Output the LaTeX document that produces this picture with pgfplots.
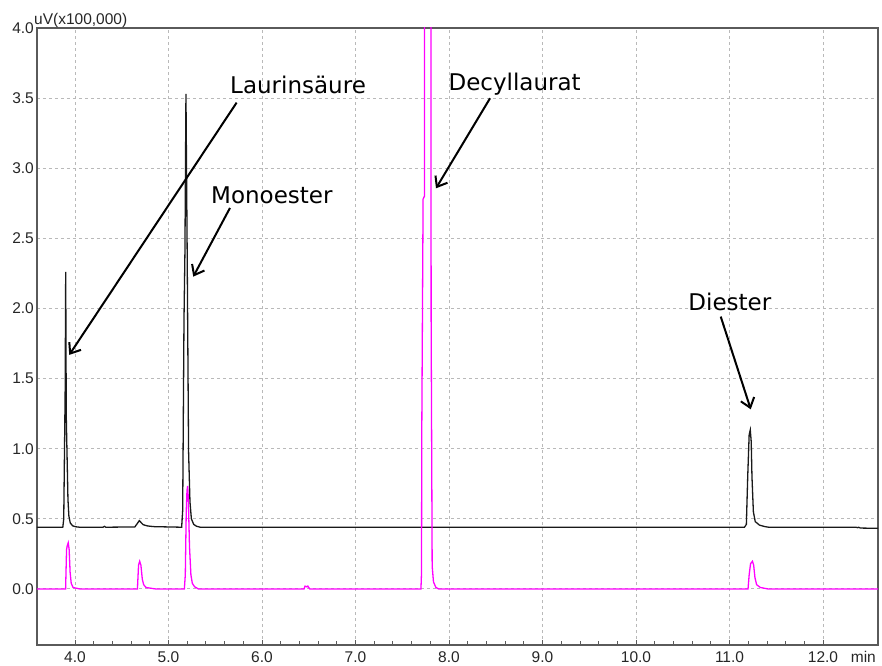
\documentclass[border=0pt]{standalone}
\usepackage{pgfplots}
\pgfplotsset{compat=1.18}
\usepackage{fontspec}
\setmainfont{Liberation Sans}
\newfontfamily\labelfont{DejaVu Sans}
\usetikzlibrary{arrows.meta}

\definecolor{trmag}{RGB}{255,0,255}
\definecolor{axgray}{RGB}{90,90,90}
\definecolor{gridgray}{RGB}{185,185,185}

% chromatogram traces: retention time (min) vs. signal (uV x 100,000)
\pgfplotstableread{
t       s
3.594   0.440
3.870   0.440
3.880   0.500
3.895   1.400
3.901   2.260
3.907   1.230
3.925   0.640
3.935   0.520
3.950   0.470
3.975   0.450
4.010   0.443
4.050   0.440
4.300   0.440
4.315   0.446
4.330   0.440
4.640   0.442
4.660   0.460
4.688   0.487
4.705   0.475
4.730   0.458
4.770   0.450
4.800   0.447
4.850   0.444
5.141   0.440
5.152   0.560
5.166   1.920
5.176   2.400
5.187   3.530
5.200   2.400
5.215   0.980
5.230   0.620
5.245   0.500
5.270   0.460
5.300   0.447
5.340   0.440
11.160  0.440
11.180  0.460
11.195  0.810
11.210  1.100
11.222  1.134
11.232  1.050
11.240  0.800
11.255  0.550
11.275  0.480
11.320  0.455
11.380  0.444
11.420  0.440
12.350  0.440
12.370  0.437
12.380  0.440
12.400  0.434
12.588  0.432
}\blacktrace

\pgfplotstableread{
t       s
3.594   0.000
3.900   0.000
3.910   0.280
3.918   0.310
3.928   0.330
3.938   0.280
3.948   0.120
3.960   0.040
3.980   0.010
4.050   0.000
4.668   0.000
4.680   0.170
4.692   0.197
4.705   0.170
4.720   0.070
4.735   0.030
4.760   0.010
4.860   0.000
5.170   0.000
5.180   0.100
5.190   0.550
5.198   0.700
5.205   0.735
5.212   0.650
5.225   0.300
5.240   0.100
5.255   0.040
5.280   0.015
5.320   0.000
6.450   0.000
6.460   0.020
6.480   0.015
6.490   0.020
6.510   0.000
7.680   0.000
7.700   0.000
7.706   0.110
7.709   1.125
7.723   2.780
7.737   2.800
7.740   4.600
7.806   4.600
7.809   1.920
7.820   0.164
7.834   0.050
7.860   0.010
7.890   0.000
11.198  0.000
11.210  0.100
11.225  0.180
11.245  0.197
11.258  0.170
11.272  0.080
11.290  0.030
11.330  0.010
11.410  0.000
12.588  0.000
}\magentatrace

\begin{document}
\begin{tikzpicture}
\begin{axis}[
  scale only axis,
  width=841pt, height=617pt,
  xmin=3.594, xmax=12.588,
  ymin=-0.4, ymax=4.0,
  clip mode=individual,
  xtick={4,5,...,12},
  ytick={0,0.5,...,4.0},
  minor x tick num=4,
  xtick pos=bottom, ytick pos=left,
  tick align=inside,
  major tick length=5pt, minor tick length=4pt,
  ytick style={draw=none},
  xtick style={axgray, line width=0.8pt},
  minor tick style={axgray, line width=0.8pt},
  grid=major,
  major grid style={gridgray, line width=0.9pt, dash pattern=on 3pt off 3pt},
  axis line style={axgray, line width=1.5pt},
  /pgf/number format/assume math mode=true,
  /pgf/number format/fixed,
  /pgf/number format/fixed zerofill,
  /pgf/number format/precision=1,
  ticklabel style={font=\fontsize{15.5}{17}\selectfont, text=black!85},
  yticklabel style={anchor=east, inner sep=0pt, xshift=-3pt},
  xticklabel style={anchor=north, inner sep=0pt, yshift=-6.5pt},
]
\addplot[black!90, line width=1.3pt] table[x=t, y=s] {\blacktrace};
\addplot[trmag, line width=1.3pt] table[x=t, y=s] {\magentatrace};

% axis captions
\node[anchor=base west, inner sep=0pt, font=\fontsize{15.5}{17}\selectfont, text=black!85]
  at (rel axis cs:0,1) [xshift=-3pt, yshift=3pt] {uV(x100,000)};
\node[anchor=north east, inner sep=0pt, font=\fontsize{15.5}{17}\selectfont, text=black!85]
  at (rel axis cs:1,0) [xshift=-2pt, yshift=-6.5pt] {min};

% peak annotations
\tikzset{pk/.style={anchor=base west, inner sep=0pt, font=\labelfont\fontsize{23}{26}\selectfont},
         pa/.style={line width=2pt, -{Straight Barb[length=9pt, width=14pt, line width=2pt]}}}
\node[pk] at (axis cs:5.658,3.535) {Laurinsäure};
\node[pk] at (axis cs:5.455,2.750) {Monoester};
\node[pk] at (axis cs:7.993,3.553) {Decyllaurat};
\node[pk] at (axis cs:10.559,1.985) {Diester};
\draw[pa] (axis cs:5.729,3.468) -- (axis cs:3.939,1.669);
\draw[pa] (axis cs:5.658,2.717) -- (axis cs:5.265,2.227);
\draw[pa] (axis cs:8.439,3.499) -- (axis cs:7.861,2.857);
\draw[pa] (axis cs:10.906,1.942) -- (axis cs:11.227,1.281);
\end{axis}
\pgfresetboundingbox
\path (-37pt,-20pt) rectangle (845pt,645pt);
\end{tikzpicture}
\end{document}
